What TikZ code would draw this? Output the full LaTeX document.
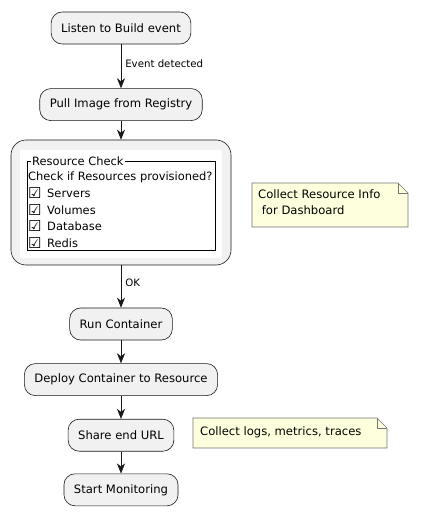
\documentclass[tikz,border=0pt]{standalone}
\usepackage{fontspec}
\setmainfont{DejaVu Sans}
\newfontfamily\symfont{DejaVu Sans}
\usetikzlibrary{positioning,arrows.meta}

\definecolor{actfill}{HTML}{F1F1F1}
\definecolor{actline}{HTML}{181818}
\definecolor{notefill}{HTML}{FEFFDD}

\newcommand{\tickbox}{\raisebox{-1pt}{\fontsize{15}{15}\symfont\bfseries ☑}}

\begin{document}
\begin{tikzpicture}[x=1pt,y=1pt,
	step box/.style={rectangle, rounded corners=11pt, draw=actline, fill=actfill, line width=0.6pt,
		minimum height=32pt, inner xsep=10pt, font=\fontsize{11.6}{14}\selectfont},
	group box/.style={rectangle, rounded corners=15pt, draw=actline, fill=actfill, line width=0.6pt,
		minimum width=220pt, minimum height=125pt},
	line text/.style={anchor=west, inner sep=0pt, font=\fontsize{11.45}{14}\selectfont},
	edge text/.style={anchor=west, inner sep=0pt, font=\fontsize{10.2}{12}\selectfont},
	note text/.style={anchor=north west, inner sep=0pt, align=left, font=\fontsize{11.6}{16}\selectfont},
	flow/.style={-{Stealth[length=10pt,width=8pt,inset=3pt]}, draw=actline, line width=0.6pt}
	]
	\useasboundingbox (0,0) rectangle (420,-513);

		\node (listen) [step box] at (121,-28) {Listen to Build event};
		\node (pull) [step box, below=44pt of listen] {Pull Image from Registry};
		\node (rescheck) [group box] at (121,-202.5) {};
			% white panel and field set
			\fill[white] (20,-150) rectangle (222,-258);
			\draw[black, line width=0.8pt] (27,-161) rectangle (215,-250);
			\node (settitle) [line text, fill=white, inner xsep=1pt] at (31,-161) {Resource Check};
			\node (question) [line text] at (28,-177) {Check if Resources provisioned?};
			\node (servers) [line text] at (28,-193.5) {\tickbox\, Servers};
			\node (volumes) [line text] at (28,-210) {\tickbox\, Volumes};
			\node (database) [line text] at (28,-226.5) {\tickbox\, Database};
			\node (redis) [line text] at (28,-243) {\tickbox\, Redis};
		\node (run) [step box] at (121,-324) {Run Container};
		\node (deploy) [step box, below=23pt of run] {Deploy Container to Resource};
		\node (share) [step box, below=23pt of deploy] {Share end URL};
		\node (monitor) [step box, below=22pt of share] {Start Monitoring};

	% notes
	\fill[notefill] (252,-183) -- (398,-183) -- (408,-193) -- (408,-227) -- (252,-227) -- cycle;
	\draw[actline!60, line width=0.6pt] (252,-183) -- (398,-183) -- (408,-193) -- (408,-227) -- (252,-227) -- cycle;
	\draw[actline!60, line width=0.6pt] (398,-183) -- (398,-193) -- (408,-193);
	\node (note1) [note text] at (258,-189) {Collect Resource Info\\\ for Dashboard};

	\fill[notefill] (193,-418) -- (377,-418) -- (387,-428) -- (387,-448) -- (193,-448) -- cycle;
	\draw[actline!60, line width=0.6pt] (193,-418) -- (377,-418) -- (387,-428) -- (387,-448) -- (193,-448) -- cycle;
	\draw[actline!60, line width=0.6pt] (377,-418) -- (377,-428) -- (387,-428);
	\node (note2) [note text] at (200,-426) {Collect logs, metrics, traces};

	\draw [flow] (listen) -- (pull) node [edge text, pos=0.45, xshift=4pt] {Event detected};
	\draw [flow] (pull) -- (rescheck);
	\draw [flow] (rescheck) -- (run) node [edge text, pos=0.42, xshift=4pt] {OK};
	\draw [flow] (run) -- (deploy);
	\draw [flow] (deploy) -- (share);
	\draw [flow] (share) -- (monitor);

	\end{tikzpicture}
\end{document}
